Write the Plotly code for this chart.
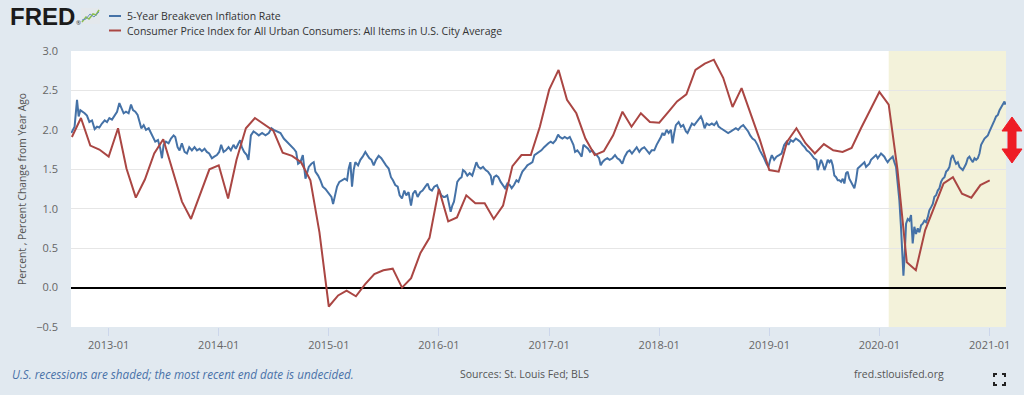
import plotly.graph_objects as go
import pandas as pd
from datetime import datetime, timedelta
import calendar

# ---------------- DATA ----------------
# 5-Year Breakeven Inflation Rate (time as decimal year)
blue_t = [
2012.661,2012.691,2012.713,2012.728,2012.743,2012.764,2012.782,2012.803,2012.825,2012.849,
2012.873,2012.894,2012.915,2012.939,2012.964,2012.985,2013.006,2013.030,2013.054,2013.076,
2013.097,2013.115,2013.136,2013.157,2013.181,2013.203,2013.221,2013.242,2013.263,2013.281,
2013.296,2013.318,2013.339,2013.363,2013.384,2013.402,2013.423,2013.448,2013.469,2013.484,
2013.499,2013.520,2013.544,2013.566,2013.590,2013.605,2013.626,2013.644,2013.665,2013.690,
2013.711,2013.732,2013.756,2013.780,2013.802,2013.826,2013.847,2013.871,2013.892,2013.913,
2013.938,2013.959,2013.983,2014.004,2014.022,2014.044,2014.065,2014.089,2014.110,2014.134,
2014.155,2014.180,2014.195,2014.210,2014.231,2014.255,2014.270,2014.292,2014.316,2014.337,
2014.364,2014.394,2014.425,2014.455,2014.479,2014.500,2014.531,2014.561,2014.591,2014.621,
2014.652,2014.682,2014.703,2014.721,2014.742,2014.764,2014.788,2014.818,2014.842,2014.863,
2014.878,2014.903,2014.924,2014.945,2014.969,2014.990,2015.006,2015.024,2015.039,2015.054,
2015.075,2015.096,2015.120,2015.145,2015.166,2015.181,2015.196,2015.211,2015.226,2015.241,
2015.266,2015.287,2015.308,2015.332,2015.350,2015.369,2015.387,2015.408,2015.429,2015.453,
2015.477,2015.499,2015.520,2015.544,2015.565,2015.583,2015.604,2015.626,2015.644,2015.665,
2015.686,2015.704,2015.725,2015.747,2015.765,2015.786,2015.807,2015.831,2015.852,2015.877,
2015.898,2015.916,2015.937,2015.958,2015.983,2016.004,2016.022,2016.043,
2016.055,2016.076,2016.091,2016.107,2016.122,2016.137,2016.152,2016.167,2016.188,2016.206,
2016.219,2016.237,2016.258,2016.279,2016.303,2016.324,2016.340,2016.358,2016.379,2016.400,
2016.424,2016.445,2016.470,2016.485,2016.500,2016.521,2016.539,2016.560,2016.582,2016.600,
2016.621,2016.642,2016.660,2016.681,2016.703,2016.721,2016.742,2016.757,2016.781,2016.802,
2016.824,2016.848,2016.866,2016.887,2016.908,2016.929,2016.954,2016.975,2016.993,2017.014,
2017.035,2017.059,2017.081,2017.096,2017.120,2017.141,2017.165,2017.187,2017.205,2017.220,
2017.235,2017.256,2017.277,2017.295,2017.311,2017.332,2017.353,2017.371,2017.392,2017.414,
2017.432,2017.453,2017.468,2017.483,2017.504,2017.528,2017.549,2017.574,2017.598,2017.619,
2017.640,2017.664,2017.686,2017.710,2017.731,
2017.752,2017.773,2017.795,2017.819,2017.840,2017.864,2017.885,2017.910,2017.931,2017.955,
2017.976,2017.994,2018.015,2018.030,2018.046,2018.067,2018.085,2018.106,2018.121,2018.136,
2018.151,2018.176,2018.197,2018.218,2018.242,2018.257,2018.279,2018.297,2018.318,2018.339,
2018.357,2018.378,2018.393,2018.412,2018.430,2018.454,2018.478,2018.499,2018.521,2018.539,
2018.560,2018.581,2018.605,2018.626,2018.651,2018.672,2018.696,2018.717,2018.741,2018.763,
2018.787,2018.808,2018.826,2018.847,2018.868,2018.893,2018.914,2018.932,2018.953,2018.974,
2018.992,2019.008,2019.023,2019.044,2019.065,2019.089,2019.111,2019.135,2019.156,2019.174,
2019.195,2019.216,2019.241,2019.262,2019.280,2019.301,2019.322,2019.340,2019.361,2019.386,
2019.407,2019.428,
2019.440,2019.455,2019.470,2019.485,2019.501,2019.516,2019.531,2019.546,2019.561,2019.576,
2019.591,2019.607,2019.622,2019.637,2019.652,2019.667,2019.682,2019.697,2019.712,2019.727,
2019.743,2019.758,2019.773,2019.788,2019.803,2019.818,2019.833,2019.848,2019.864,2019.879,
2019.894,2019.909,2019.924,2019.939,2019.954,2019.969,2019.985,2020.000,2020.015,2020.030,
2020.045,2020.060,2020.075,2020.090,2020.106,2020.121,2020.136,2020.151,2020.166,2020.181,
2020.196,2020.205,2020.218,2020.230,2020.242,2020.257,2020.272,2020.287,2020.302,2020.317,
2020.332,2020.348,2020.363,2020.378,2020.393,2020.408,2020.423,2020.438,2020.453,2020.469,
2020.484,2020.499,2020.514,2020.529,2020.544,2020.559,2020.574,2020.590,2020.605,2020.620,
2020.635,2020.650,2020.665,2020.680,2020.695,2020.711,2020.726,2020.741,2020.756,2020.771,
2020.786,2020.801,2020.816,2020.832,2020.847,2020.862,2020.877,2020.892,2020.907,2020.922,
2020.937,2020.953,2020.968,2020.983,2020.998,2021.013,2021.028,2021.043,2021.058,2021.074,
2021.089,2021.104,2021.119,2021.134,2021.143,
]
blue_v = [
1.96,2.04,2.38,2.17,2.25,2.23,2.21,2.18,2.10,2.12,
2.01,2.04,2.03,2.08,2.12,2.10,2.15,2.13,2.19,2.23,
2.34,2.27,2.21,2.23,2.21,2.32,2.25,2.23,2.19,2.10,
2.02,2.06,2.00,2.02,1.96,1.93,1.85,1.87,1.76,1.64,
1.81,1.85,1.83,1.89,1.93,1.91,1.78,1.74,1.83,1.72,
1.70,1.78,1.74,1.78,1.74,1.76,1.73,1.76,1.72,1.70,
1.64,1.66,1.68,1.72,1.81,1.72,1.74,1.78,1.74,1.81,
1.76,1.83,1.87,1.78,1.72,1.68,1.62,1.93,1.98,1.96,
1.93,1.96,1.93,1.96,2.02,2.00,1.98,1.96,1.89,1.85,
1.81,1.76,1.72,1.57,1.59,1.68,1.38,1.53,1.57,1.59,
1.47,1.42,1.36,1.28,1.25,1.21,1.17,1.15,1.06,1.17,
1.28,1.34,1.36,1.38,1.36,1.51,1.59,1.28,1.49,1.59,
1.55,1.62,1.66,1.72,1.68,1.64,1.62,1.55,1.62,1.67,
1.64,1.59,1.55,1.51,1.40,1.36,1.30,1.28,1.17,1.13,
1.23,1.17,1.21,1.04,1.19,1.23,1.15,1.21,1.23,1.28,
1.32,1.25,1.23,1.28,1.30,1.23,1.17,1.15,
1.15,1.17,1.04,0.96,1.04,1.09,1.21,1.34,1.38,1.40,
1.49,1.47,1.42,1.45,1.42,1.53,1.59,1.53,1.51,1.53,
1.49,1.47,1.42,1.30,1.40,1.42,1.40,1.34,1.30,1.26,
1.32,1.30,1.26,1.30,1.36,1.34,1.42,1.47,1.51,1.55,
1.57,1.59,1.68,1.70,1.72,1.74,1.78,1.81,1.83,1.85,
1.83,1.87,1.94,1.91,1.89,1.91,1.89,1.91,1.85,1.81,
1.72,1.74,1.70,1.66,1.81,1.78,1.76,1.72,1.74,1.70,
1.68,1.64,1.55,1.59,1.62,1.64,1.62,1.64,1.68,1.64,
1.62,1.57,1.66,1.72,1.74,
1.70,1.74,1.78,1.72,1.76,1.78,1.74,1.70,1.74,1.74,
1.81,1.85,1.91,1.96,1.93,2.00,1.96,2.00,1.83,1.96,
2.06,2.10,2.04,2.06,1.98,1.96,2.04,2.08,2.06,2.10,
2.12,2.17,2.12,2.02,2.08,2.06,2.08,2.06,2.10,2.04,
2.02,2.00,1.98,1.96,1.98,2.00,2.02,2.00,2.04,2.06,
2.02,1.98,1.93,1.89,1.87,1.81,1.74,1.70,1.64,1.57,
1.53,1.62,1.68,1.62,1.66,1.68,1.70,1.81,1.85,1.81,
1.87,1.85,1.89,1.87,1.85,1.81,1.78,1.74,1.72,1.68,
1.64,1.62,
1.49,1.55,1.62,1.57,1.49,1.55,1.62,1.59,1.62,1.55,
1.42,1.40,1.36,1.36,1.34,1.38,1.32,1.45,1.47,1.38,
1.34,1.30,1.26,1.36,1.51,1.53,1.55,1.57,1.59,1.53,
1.55,1.57,1.62,1.64,1.66,1.68,1.64,1.68,1.70,1.68,
1.66,1.62,1.59,1.62,1.64,1.66,1.59,1.53,1.32,1.11,
0.77,0.47,0.15,0.43,0.81,0.87,0.85,0.92,0.56,0.77,
0.68,0.75,0.70,0.79,0.81,0.85,0.83,0.89,0.98,1.02,
1.06,1.15,1.17,1.23,1.26,1.34,1.38,1.40,1.47,1.49,
1.53,1.64,1.68,1.62,1.57,1.59,1.53,1.51,1.49,1.53,
1.57,1.64,1.66,1.62,1.59,1.64,1.62,1.64,1.70,1.81,
1.85,1.89,1.91,1.93,1.98,2.02,2.06,2.12,2.17,2.19,
2.25,2.29,2.34,2.36,2.32,
]

# CPI, percent change from year ago (monthly, Sep 2012 .. Jan 2021)
cpi_start = "2012-09-01"
cpi_v = [
1.91, 2.15, 1.80, 1.75,
1.66, 2.02, 1.51, 1.14, 1.37, 1.70, 1.88, 1.50, 1.09, 0.87, 1.19, 1.50,
1.55, 1.13, 1.62, 2.02, 2.15, 2.07, 1.99, 1.71, 1.67, 1.59, 1.36, 0.70,
-0.24, -0.10, -0.04, -0.11, 0.04, 0.17, 0.22, 0.24, 0.00, 0.12, 0.44, 0.63,
1.25, 0.84, 0.89, 1.17, 1.07, 1.07, 0.87, 1.04, 1.54, 1.68, 1.68, 2.04,
2.51, 2.76, 2.38, 2.21, 1.89, 1.68, 1.73, 1.93, 2.23, 2.04, 2.21, 2.10,
2.09, 2.23, 2.36, 2.45, 2.76, 2.84, 2.89, 2.66, 2.29, 2.53, 2.19, 1.87,
1.49, 1.47, 1.85, 2.02, 1.83, 1.70, 1.82, 1.74, 1.72, 1.77, 2.02, 2.25,
2.48, 2.32, 1.50, 0.32, 0.22, 0.73, 1.02, 1.32, 1.40, 1.19, 1.14, 1.30,
1.36,
]

series_names = ["5-Year Breakeven Inflation Rate",
                "Consumer Price Index for All Urban Consumers: All Items in U.S. City Average"]
x_range = ["2012-08-29", "2021-02-24"]
recession = ["2020-02-01", "2021-02-24"]
y_ticks = [-0.5, 0.0, 0.5, 1.0, 1.5, 2.0, 2.5, 3.0]

# ---------------- helpers ----------------
def from_decimal_year(t):
    y = int(t)
    days = 366 if calendar.isleap(y) else 365
    return datetime(y, 1, 1) + timedelta(days=(t - y) * days)

blue_dates = [from_decimal_year(t) for t in blue_t]
cpi_dates = pd.date_range(cpi_start, periods=len(cpi_v), freq="MS")

W, H = 1024, 395
L, R, T, B = 71, 18, 51, 68
PW, PH = W - L - R, H - T - B

def PX(X):
    return (X - L) / PW

def PY(Y):
    return (H - B - Y) / PH

BLUE = "#4572a7"
RED = "#aa4643"
FONT = "Open Sans"

fig = go.Figure()
fig.add_trace(go.Scatter(x=blue_dates, y=blue_v, mode="lines", name=series_names[0],
                         line=dict(color=BLUE, width=2), showlegend=False))
fig.add_trace(go.Scatter(x=cpi_dates, y=cpi_v, mode="lines", name=series_names[1],
                         line=dict(color=RED, width=2), showlegend=False))

shapes = []
# recession shading
shapes.append(dict(type="rect", xref="x", yref="paper", x0=recession[0], x1=recession[1],
                   y0=0, y1=1, fillcolor="#f3f2da", line=dict(width=0), layer="below"))
# legend samples
shapes.append(dict(type="line", xref="paper", yref="paper", x0=PX(109), x1=PX(121),
                   y0=PY(16), y1=PY(16), line=dict(color=BLUE, width=2)))
shapes.append(dict(type="line", xref="paper", yref="paper", x0=PX(109), x1=PX(121),
                   y0=PY(30.5), y1=PY(30.5), line=dict(color=RED, width=2)))
# logo icon
shapes.append(dict(type="rect", xref="paper", yref="paper", x0=PX(81), x1=PX(100),
                   y0=PY(24), y1=PY(8), fillcolor="#e4e8ec", line=dict(width=0)))
def poly(pts):
    return "M " + " L ".join(f"{PX(a):.5f},{PY(b):.5f}" for a, b in pts)
shapes.append(dict(type="path", xref="paper", yref="paper",
                   path=poly([(82, 22), (86, 17), (89, 19), (93, 14), (96, 15), (99, 10)]),
                   line=dict(color="#8cbf4a", width=1.5)))
shapes.append(dict(type="path", xref="paper", yref="paper",
                   path=poly([(82, 20), (86, 19), (90, 14), (94, 17), (99, 12)]),
                   line=dict(color="#6a8fc0", width=1)))
# red double arrow
arrow_pts = [(1012, 117), (1022, 131), (1016, 131), (1016, 149), (1022, 149), (1012, 163),
             (1002, 149), (1008, 149), (1008, 131), (1002, 131)]
shapes.append(dict(type="path", xref="paper", yref="paper", path=poly(arrow_pts) + " Z",
                   fillcolor="#ee1c25", line=dict(color="#ee1c25", width=1)))
# fullscreen icon
for (cx, cy, dx, dy) in [(994, 374, 1, 1), (1005, 374, -1, 1), (994, 385, 1, -1), (1005, 385, -1, -1)]:
    shapes.append(dict(type="path", xref="paper", yref="paper",
                       path=poly([(cx, cy + 3 * dy), (cx, cy), (cx + 3 * dx, cy)]),
                       line=dict(color="#222222", width=2)))

annotations = [
    dict(text="<b>FRED</b>", x=PX(8), y=PY(16), xref="paper", yref="paper", xanchor="left",
         yanchor="middle", showarrow=False,
         font=dict(family="Liberation Sans", size=24, color="#1b1b1b")),
    dict(text="®", x=PX(74), y=PY(23), xref="paper", yref="paper", xanchor="left",
         yanchor="middle", showarrow=False, font=dict(family=FONT, size=6, color="#333")),
    dict(text=series_names[0], x=PX(125), y=PY(16), xref="paper", yref="paper",
         xanchor="left", yanchor="middle", showarrow=False,
         font=dict(family=FONT, size=10.5, color="#333333")),
    dict(text=series_names[1], x=PX(125), y=PY(30.5), xref="paper", yref="paper",
         xanchor="left", yanchor="middle", showarrow=False,
         font=dict(family=FONT, size=10.5, color="#333333")),
    dict(text="<i>U.S. recessions are shaded; the most recent end date is undecided.</i>",
         x=PX(10), y=PY(374), xref="paper", yref="paper", xanchor="left", yanchor="middle",
         showarrow=False, font=dict(family=FONT, size=11.7, color="#4a72a8")),
    dict(text="Sources: St. Louis Fed; BLS", x=PX(458), y=PY(374), xref="paper", yref="paper",
         xanchor="left", yanchor="middle", showarrow=False,
         font=dict(family=FONT, size=10.5, color="#555555")),
    dict(text="fred.stlouisfed.org", x=PX(852), y=PY(374), xref="paper", yref="paper",
         xanchor="left", yanchor="middle", showarrow=False,
         font=dict(family=FONT, size=10.5, color="#555555")),
]

fig.update_layout(
    width=W, height=H,
    margin=dict(l=L, r=R, t=T, b=B, pad=0),
    paper_bgcolor="#e1e9f0",
    plot_bgcolor="#ffffff",
    shapes=shapes,
    annotations=annotations,
    font=dict(family=FONT, size=11, color="#666666"),
    xaxis=dict(
        type="date", range=x_range, tick0="2013-01-01", dtick="M12", tickformat="%Y-%m",
        showgrid=False, ticks="outside", ticklen=8, tickcolor="#ccd6eb", tickwidth=1,
        showline=False, zeroline=False, tickfont=dict(family=FONT, size=11, color="#666666"),
    ),
    yaxis=dict(
        range=[-0.5, 3.0], tickvals=y_ticks, tickformat=".1f", showgrid=True,
        gridcolor="#e6e6e6", gridwidth=1, zeroline=True, zerolinecolor="#000000",
        zerolinewidth=2, ticks="", ticklabelstandoff=12, showline=False,
        tickfont=dict(family=FONT, size=11, color="#666666"),
        title=dict(text="Percent , Percent Change from Year Ago", standoff=7,
                   font=dict(family=FONT, size=10.3, color="#555555")),
    ),
)

fig.write_html("out.html", config={"displayModeBar": False},
               post_script="document.body.style.margin='0';")
